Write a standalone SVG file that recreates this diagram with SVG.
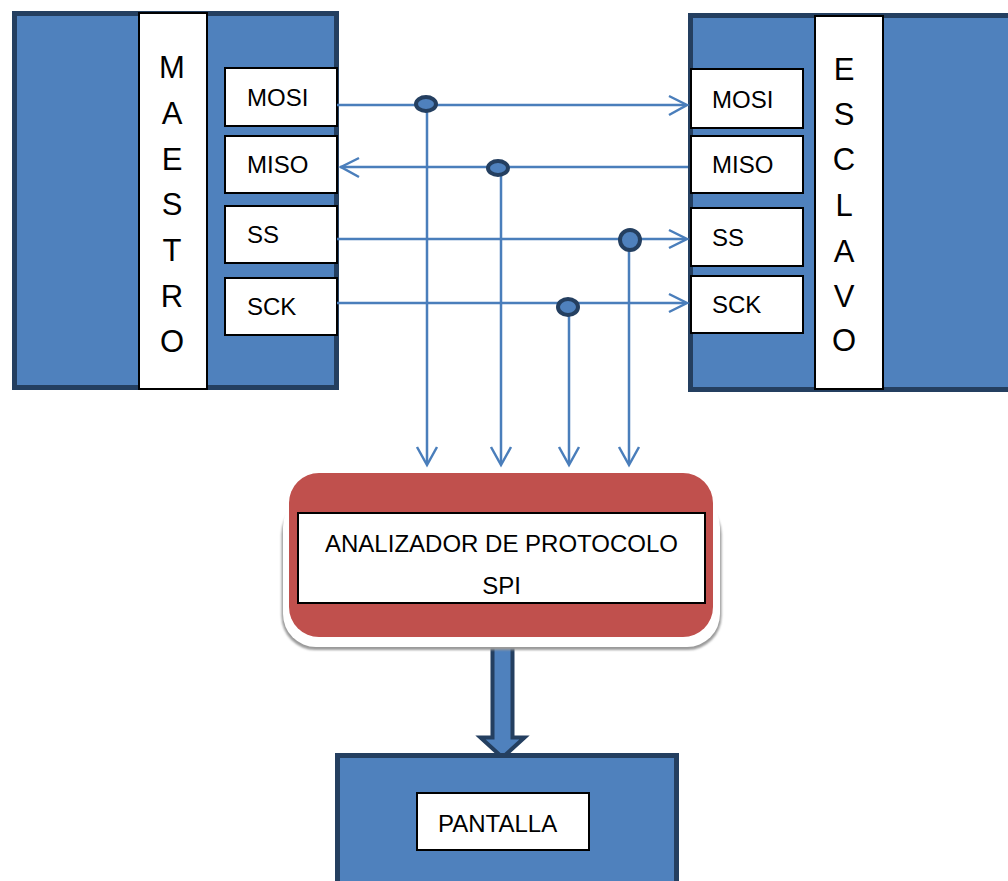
<svg xmlns="http://www.w3.org/2000/svg" width="1008" height="881" viewBox="0 0 1008 881">
<style>
.blk{fill:#4f81bd;stroke:#243f60;stroke-width:5}
.wb{fill:#fff;stroke:#000;stroke-width:2}
.t{font-family:"Liberation Sans",Arial,sans-serif;font-size:24px;fill:#000}
.big{font-family:"Liberation Sans",Arial,sans-serif;font-size:31px;fill:#000;text-anchor:middle}
.ln{fill:none;stroke:#4a7ebb;stroke-width:2.5}
.ah{fill:none;stroke:#4a7ebb;stroke-width:2.5;stroke-linejoin:miter}
.jn{fill:#4f81bd;stroke:#243f60;stroke-width:4}
</style>
<defs>
<filter id="soft" x="-5%" y="-5%" width="110%" height="110%"><feGaussianBlur stdDeviation="0.8"/></filter>
</defs>
<rect width="1008" height="881" fill="#fff"/>
<g id="maestro">
<rect class="blk" x="14.5" y="13.5" width="322" height="374"/>
<rect class="wb" x="139" y="13" width="68" height="376"/>
<text class="big" x="172"><tspan x="172" y="78">M</tspan><tspan x="172" y="124">A</tspan><tspan x="172" y="170">E</tspan><tspan x="172" y="215">S</tspan><tspan x="172" y="261">T</tspan><tspan x="172" y="307">R</tspan><tspan x="172" y="352">O</tspan></text>
</g>
<g id="m-mosi"><rect class="wb" x="225" y="68" width="112" height="58"/><text class="t" x="247" y="106">MOSI</text></g>
<g id="m-miso"><rect class="wb" x="225" y="136" width="112" height="57"/><text class="t" x="247" y="173">MISO</text></g>
<g id="m-ss"><rect class="wb" x="225" y="206" width="112" height="57"/><text class="t" x="247" y="243">SS</text></g>
<g id="m-sck"><rect class="wb" x="225" y="278" width="112" height="57"/><text class="t" x="247" y="315">SCK</text></g>
<g id="esclavo">
<rect class="blk" x="690.5" y="15.5" width="330" height="374"/>
<rect class="wb" x="815" y="16" width="68" height="373"/>
<text class="big" x="844"><tspan x="844" y="80">E</tspan><tspan x="844" y="125">S</tspan><tspan x="844" y="170">C</tspan><tspan x="844" y="216">L</tspan><tspan x="844" y="262">A</tspan><tspan x="844" y="307">V</tspan><tspan x="844" y="351">O</tspan></text>
</g>
<g id="e-mosi"><rect class="wb" x="691" y="69" width="112" height="59"/><text class="t" x="712" y="108">MOSI</text></g>
<g id="e-miso"><rect class="wb" x="691" y="136" width="112" height="57"/><text class="t" x="712" y="173">MISO</text></g>
<g id="e-ss"><rect class="wb" x="691" y="208" width="112" height="58"/><text class="t" x="712" y="246">SS</text></g>
<g id="e-sck"><rect class="wb" x="691" y="276" width="112" height="57"/><text class="t" x="712" y="313">SCK</text></g>
<g id="connectors">
<path class="ln" d="M337 105H686M340 167H688M337 239H686M337 303H686"/>
<path class="ah" d="M669 96L687 105L669 115M359 158L341 167L359 177M669 230L687 239L669 248M669 294L687 303L669 312"/>
<path class="ln" d="M427 104V464M501 168V464M569 307V464M629 240V464"/>
<path class="ah" d="M417 447L427 465L437 447M491 447L501 465L511 447M559 447L569 465L579 447M619 447L629 465L639 447"/>
<ellipse class="jn" cx="426" cy="104" rx="10" ry="7"/>
<ellipse class="jn" cx="498" cy="168" rx="10" ry="7"/>
<ellipse class="jn" cx="630" cy="240" rx="10" ry="10"/>
<ellipse class="jn" cx="568" cy="307" rx="10" ry="8"/>
<path d="M492.5 639.5H512.5V737.5H524.5L502.5 757.5L480.5 737.5H492.5Z" fill="#4f81bd" stroke="#243f60" stroke-width="4" stroke-linejoin="miter"/>
</g>
<g id="analizador">
<rect x="281.5" y="500" width="440" height="150" rx="34" fill="#9a9a9a" filter="url(#soft)"/>
<rect x="283" y="494" width="437" height="153" rx="33" fill="#fff"/>
<rect x="289" y="473" width="424" height="164" rx="30" fill="#c0504d"/>
<rect class="wb" x="298" y="513" width="407" height="90"/>
<text class="t" x="501.5" y="552" text-anchor="middle">ANALIZADOR DE PROTOCOLO</text>
<text class="t" x="501.5" y="594" text-anchor="middle">SPI</text>
</g>
<g id="pantalla">
<rect class="blk" x="337.5" y="755.5" width="339" height="140"/>
<rect class="wb" x="417" y="793" width="172" height="57"/>
<text class="t" x="438" y="832">PANTALLA</text>
</g>
</svg>
